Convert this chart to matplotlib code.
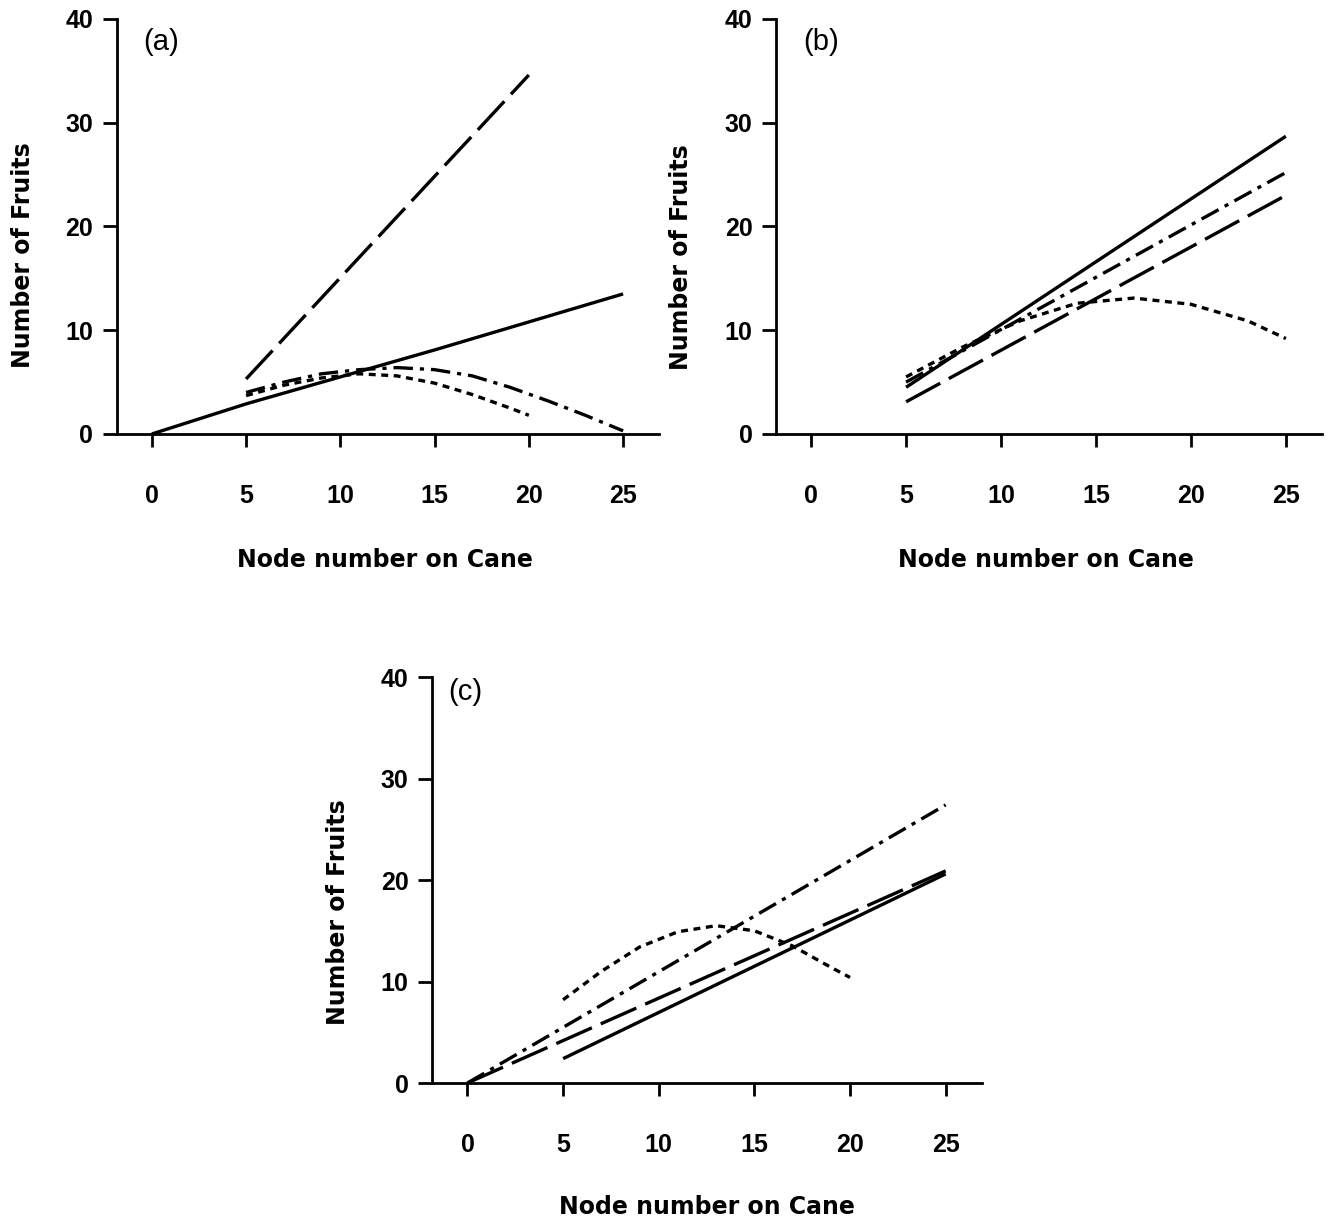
import matplotlib
matplotlib.use("Agg")
import matplotlib.pyplot as plt

plt.rcParams['font.family'] = ['Liberation Sans', 'DejaVu Sans']
plt.rcParams['lines.scale_dashes'] = False

# --- data ---
node_ticks = [0, 5, 10, 15, 20, 25]
fruit_ticks = [0, 10, 20, 30, 40]

# (a)
a_long_x = [5, 20]
a_long_y = [5.3, 34.6]
a_solid_x = [0, 5, 10, 15, 20, 25]
a_solid_y = [0, 2.9, 5.5, 8.1, 10.8, 13.5]
a_dot_x = [5, 7, 9, 11, 13, 15, 17, 19, 20]
a_dot_y = [3.7, 4.7, 5.4, 5.8, 5.6, 4.9, 3.8, 2.5, 1.8]
a_dd_x = [5, 7, 9, 11, 13, 15, 17, 19, 21, 23, 25]
a_dd_y = [4.0, 5.0, 5.8, 6.2, 6.4, 6.2, 5.6, 4.5, 3.2, 1.8, 0.3]

# (b)
b_solid_x = [5, 25]
b_solid_y = [4.5, 28.7]
b_dd_x = [5, 25]
b_dd_y = [5.0, 25.2]
b_long_x = [5, 25]
b_long_y = [3.1, 23.0]
b_dot_x = [5, 8, 11, 14, 17, 20, 23, 25]
b_dot_y = [5.5, 8.4, 10.9, 12.6, 13.1, 12.5, 10.9, 9.2]

# (c)
c_solid_x = [5, 25]
c_solid_y = [2.4, 20.6]
c_long_x = [0, 25]
c_long_y = [0, 20.9]
c_dd_x = [0, 25]
c_dd_y = [0, 27.4]
c_dot_x = [5, 7, 9, 11, 13, 15, 17, 19, 20]
c_dot_y = [8.2, 11.0, 13.4, 14.9, 15.5, 15.0, 13.5, 11.4, 10.4]

LW = 2.4
styles = {
    'solid': dict(linestyle='-'),
    'long': dict(linestyle=(0, (28, 7))),
    'dd': dict(linestyle=(0, (14, 5, 3, 5))),
    'dot': dict(linestyle=(0, (5, 4))),
}
label_font = dict(family='DejaVu Sans', fontsize=17, fontweight='bold')

fig = plt.figure(figsize=(13.29, 12.17), dpi=100)

def setup(ax, letter, ylab_xy, xlab_xy, letter_xy):
    ax.set_xlim(-1.85, 26.9)
    ax.set_ylim(0, 40)
    for s in ['top', 'right']:
        ax.spines[s].set_visible(False)
    for s in ['left', 'bottom']:
        ax.spines[s].set_linewidth(2.0)
    ax.set_xticks(node_ticks)
    ax.set_yticks(fruit_ticks)
    ax.tick_params(axis='x', direction='out', length=9, width=2, pad=27,
                   labelsize=18)
    ax.tick_params(axis='y', direction='out', length=10, width=2, pad=7,
                   labelsize=18)
    for lab in ax.get_xticklabels() + ax.get_yticklabels():
        lab.set_fontweight('bold')
    ax.set_ylabel("Number of Fruits", **label_font)
    ax.set_xlabel("Node number on Cane", **label_font)
    ax.yaxis.set_label_coords(*ylab_xy)
    ax.xaxis.set_label_coords(*xlab_xy)
    ax.text(letter_xy[0], letter_xy[1], letter, transform=ax.transAxes,
            fontsize=21, ha='left', va='center')

def draw(ax, x, y, kind):
    ax.plot(x, y, color='black', lw=LW, solid_capstyle='butt',
            dash_capstyle='butt', **styles[kind])

ax_a = fig.add_axes([0.0880, 0.6434, 0.4078, 0.3410])
setup(ax_a, "(a)", (-0.152, 0.43), (0.494, -0.275), (0.048, 0.945))
draw(ax_a, a_long_x, a_long_y, 'long')
draw(ax_a, a_solid_x, a_solid_y, 'solid')
draw(ax_a, a_dot_x, a_dot_y, 'dot')
draw(ax_a, a_dd_x, a_dd_y, 'dd')

ax_b = fig.add_axes([0.5839, 0.6434, 0.4108, 0.3410])
setup(ax_b, "(b)", (-0.152, 0.425), (0.495, -0.275), (0.05, 0.945))
draw(ax_b, b_solid_x, b_solid_y, 'solid')
draw(ax_b, b_dd_x, b_dd_y, 'dd')
draw(ax_b, b_long_x, b_long_y, 'long')
draw(ax_b, b_dot_x, b_dot_y, 'dot')

ax_c = fig.add_axes([0.3251, 0.1101, 0.4138, 0.3336])
setup(ax_c, "(c)", (-0.15, 0.42), (0.5, -0.276), (0.03, 0.963))
draw(ax_c, c_solid_x, c_solid_y, 'solid')
draw(ax_c, c_long_x, c_long_y, 'long')
draw(ax_c, c_dd_x, c_dd_y, 'dd')
draw(ax_c, c_dot_x, c_dot_y, 'dot')

fig.savefig("out.png", dpi=100, facecolor='white')
